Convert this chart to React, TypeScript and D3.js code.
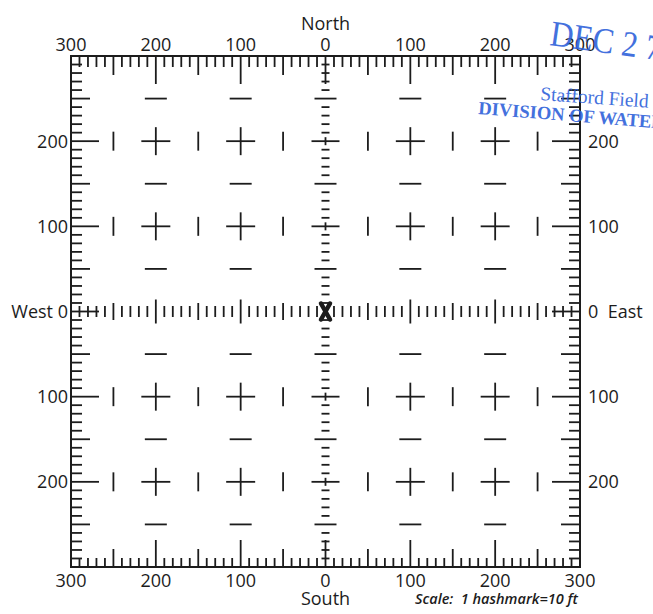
import * as d3 from 'd3';

// axis labels (feet from the well, along each edge)
const topTickValues = [-300, -200, -100, 0, 100, 200, 300];
const topTickLabels = ['300', '200', '100', '0', '100', '200', '300'];
const sideTickValues = [200, 100, 0, -100, -200];
const leftTickLabels = ['200', '100', 'West 0', '100', '200'];
const rightTickLabels = ['200', '100', '0  East', '100', '200'];

const extent = 300; // ft each way
const hashStep = 10; // 1 hashmark = 10 ft
const markStep = 50;

const wellLocation = { x: 0, y: 0 };

const stampLines = ['DEC 2 7', 'Stafford Field', 'DIVISION OF WATER'];

const W = 653;
const H = 614;
const ink = '#1c1c1c';
const stampBlue = '#2f62da';
const font = '"Open Sans", "DejaVu Sans", sans-serif';

export default function App() {
	const x = d3.scaleLinear().domain([-extent, extent]).range([71, 580]);
	const y = d3.scaleLinear().domain([extent, -extent]).range([56, 567]);

	const hashes = d3.range(-extent + hashStep, extent, hashStep);
	const marks = d3.range(-extent + markStep, extent, markStep);

	const lenOf = (v: number, s: number, m: number, l: number) =>
		v % 100 === 0 ? l : v % 50 === 0 ? m : s;

	const x0 = x(0);
	const y0 = y(0);
	const [xl, xr] = x.range();
	const [yt, yb] = y.range();

	const lines: { x1: number; y1: number; x2: number; y2: number }[] = [];

	// edge hashmarks
	hashes.forEach((v) => {
		const lt = lenOf(v, 11, 19, 28);
		const lb = lenOf(v, 9, 18, 27);
		lines.push({ x1: x(v), y1: yt, x2: x(v), y2: yt + lt });
		lines.push({ x1: x(v), y1: yb, x2: x(v), y2: yb - lb });
		lines.push({ x1: xl, y1: y(v), x2: xl + lt, y2: y(v) });
		lines.push({ x1: xr, y1: y(v), x2: xr - lt, y2: y(v) });
	});

	// centre row and column hashmarks
	hashes
		.filter((v) => v !== 0)
		.forEach((v) => {
			const hv = lenOf(v, 11, 17, 24) / 2;
			lines.push({ x1: x(v), y1: y0 - hv, x2: x(v), y2: y0 + hv });
			const hh = lenOf(v, 8, 22, 28) / 2;
			lines.push({ x1: x0 - hh, y1: y(v), x2: x0 + hh, y2: y(v) });
			if (v % 100 === 0) {
				lines.push({ x1: x0, y1: y(v) - 4, x2: x0, y2: y(v) + 4 });
			}
		});

	// interior crosses and dashes
	marks
		.filter((a) => a !== 0)
		.forEach((a) => {
			marks
				.filter((b) => b !== 0)
				.forEach((b) => {
					const px = x(a);
					const py = y(b);
					const evenX = a % 100 === 0;
					const evenY = b % 100 === 0;
					if (evenX && evenY) {
						lines.push({ x1: px - 14.5, y1: py, x2: px + 14.5, y2: py });
						lines.push({ x1: px, y1: py - 14, x2: px, y2: py + 14 });
					} else if (evenX) {
						lines.push({ x1: px - 11, y1: py, x2: px + 11, y2: py });
					} else if (evenY) {
						lines.push({ x1: px, y1: py - 9.5, x2: px, y2: py + 9.5 });
					}
				});
		});

	const wx = x(wellLocation.x);
	const wy = y(wellLocation.y);

	return (
		<svg
			width={W}
			height={H}
			style={{ position: 'absolute', left: 0, top: 0, background: '#fff' }}
		>
			<g stroke={ink} strokeWidth={1.8} strokeLinecap="butt">
				{lines.map((l, i) => (
					<line key={i} {...l} />
				))}
			</g>
			<rect
				x={xl}
				y={yt}
				width={xr - xl}
				height={yb - yt}
				fill="none"
				stroke={ink}
				strokeWidth={2}
			/>

			{/* well location */}
			<g stroke={ink} strokeWidth={4.5} strokeLinecap="round">
				<line x1={wx - 4.5} y1={wy - 8} x2={wx + 4.5} y2={wy + 8} />
				<line x1={wx + 4.5} y1={wy - 8} x2={wx - 4.5} y2={wy + 8} />
			</g>

			<g fontFamily={font} fontSize={18} fill={ink}>
				<text x={x0} y={30} textAnchor="middle">
					North
				</text>
				{topTickValues.map((v, i) => (
					<text key={'t' + i} x={x(v)} y={51} textAnchor="middle">
						{topTickLabels[i]}
					</text>
				))}
				{topTickValues.map((v, i) => (
					<text key={'b' + i} x={x(v)} y={587} textAnchor="middle">
						{topTickLabels[i]}
					</text>
				))}
				<text x={x0} y={605} textAnchor="middle">
					South
				</text>
				{sideTickValues.map((v, i) => (
					<text key={'l' + i} x={68} y={y(v) + 6.5} textAnchor="end">
						{leftTickLabels[i]}
					</text>
				))}
				{sideTickValues.map((v, i) => (
					<text
						key={'r' + i}
						x={588}
						y={y(v) + 6.5}
						textAnchor="start"
						style={{ whiteSpace: 'pre' }}
					>
						{rightTickLabels[i]}
					</text>
				))}
				<text
					x={415}
					y={604}
					fontSize={14.5}
					fontStyle="italic"
					fontWeight={600}
					style={{ whiteSpace: 'pre' }}
				>
					{'Scale:  1 hashmark=10 ft'}
				</text>
			</g>

			{/* received stamp */}
			<g fill={stampBlue} fontFamily='"Liberation Serif", "DejaVu Serif", serif' opacity={0.9}>
				<text
					x={549}
					y={45}
					fontSize={36}
					textLength={112}
					lengthAdjust="spacingAndGlyphs"
					transform="rotate(8 549 45)"
				>
					{stampLines[0]}
				</text>
				<text x={540} y={100} fontSize={19.5} transform="rotate(4 540 100)">
					{stampLines[1]}
				</text>
				<text
					x={478}
					y={114}
					fontSize={18.5}
					fontWeight={700}
					transform="rotate(4.5 478 114)"
				>
					{stampLines[2]}
				</text>
			</g>
		</svg>
	);
}
